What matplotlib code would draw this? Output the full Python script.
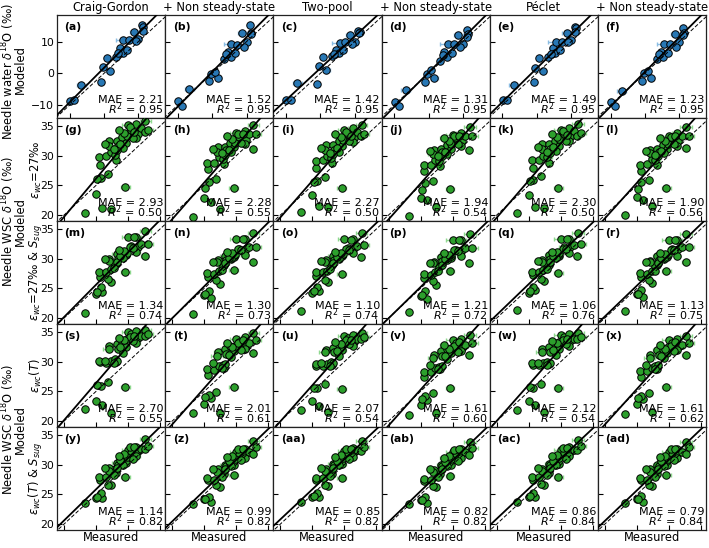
import numpy as np
import matplotlib
matplotlib.use("Agg")
import matplotlib.pyplot as plt

col_titles = ["Craig-Gordon", "+ Non steady-state", "Two-pool", "+ Non steady-state", "Péclet", "+ Non steady-state"]
row_labels = [None, r"$\varepsilon_{wc}$=27‰", r"$\varepsilon_{wc}$=27‰ & $S_{sug}$",
              r"$\varepsilon_{wc}(T)$", r"$\varepsilon_{wc}(T)$ & $S_{sug}$"]
panel_letters = ["a", "b", "c", "d", "e", "f", "g", "h", "i", "j", "k", "l", "m", "n", "o", "p", "q", "r",
                 "s", "t", "u", "v", "w", "x", "y", "z", "aa", "ab", "ac", "ad"]
mae_labels = ["2.21", "1.52", "1.42", "1.31", "1.49", "1.23",
              "2.93", "2.28", "2.27", "1.94", "2.30", "1.90",
              "1.34", "1.30", "1.10", "1.21", "1.06", "1.13",
              "2.70", "2.01", "2.07", "1.61", "2.12", "1.61",
              "1.14", "0.99", "0.85", "0.82", "0.86", "0.79"]
r2_labels = ["0.95", "0.95", "0.95", "0.95", "0.95", "0.95",
             "0.50", "0.55", "0.50", "0.54", "0.50", "0.56",
             "0.74", "0.73", "0.74", "0.72", "0.76", "0.75",
             "0.55", "0.61", "0.54", "0.60", "0.54", "0.62",
             "0.82", "0.82", "0.82", "0.82", "0.84", "0.84"]

# Needle water (row 1)
meas_nw = [-9.9, -8.7, -6.7, -0.9, -0.4, 1.7, 0.8, 3.4, 4.6, 5.4, 6.7, 5.6, 7.3, 8.7, 10.0, 11.1, 11.4, 11.2, 4.1, 9.2]
xerr_nw = [0.5, 0.5, 1.3, 0.4, 0.4, 1.0, 0.4, 0.5, 0.6, 0.5, 0.9, 2.2, 1.0, 1.2, 0.6, 0.5, 0.4, 0.4, 0.6, 0.8]
mod_a = [-8.6, -8.5, -3.6, -2.8, 1.9, 0.7, 4.9, 5.2, 8.0, 6.5, 7.5, 10.4, 10.4, 13.0, 10.7, 15.4, 14.6, 13.5, 6.4, 10.3]
mod_b = [-8.6, -10.2, -5.0, -2.4, -0.2, -1.6, 0.5, 4.5, 6.6, 5.0, 6.4, 9.3, 9.0, 12.8, 10.0, 15.2, 12.8, 12.3, 6.0, 8.2]
mod_c = [-8.4, -8.4, -3.0, -3.3, 2.3, 0.9, 5.0, 5.4, 7.3, 6.3, 7.2, 9.7, 9.8, 12.1, 9.8, 13.4, 13.0, 12.6, 6.1, 9.3]
mod_d = [-9.2, -10.4, -5.4, -2.8, -0.3, -1.6, 0.9, 4.0, 6.6, 5.2, 6.4, 9.3, 9.4, 12.2, 9.4, 13.8, 12.3, 11.5, 5.8, 8.3]
mod_e = [-8.5, -8.4, -3.8, -2.8, 1.6, 0.6, 4.7, 5.0, 7.9, 6.5, 7.2, 10.0, 10.0, 12.6, 10.4, 14.7, 14.2, 13.1, 6.1, 9.8]
mod_f = [-8.9, -10.2, -5.5, -2.3, 0.1, -1.5, 0.8, 4.6, 6.8, 5.1, 6.5, 9.4, 9.3, 12.3, 9.9, 14.4, 12.6, 12.0, 6.0, 8.4]

# Needle WSC (rows 2-5)
meas_wsc = [23.2, 25.0, 26.0, 27.4, 29.6, 25.7, 26.9, 25.6, 25.5, 26.6, 27.3, 28.1, 27.9, 27.1, 27.0, 28.2, 28.4, 29.1, 29.7, 30.0,
            30.5, 29.8, 31.3, 31.5, 32.0, 32.7, 32.6, 33.1, 31.3, 29.2, 28.3, 28.8, 30.3, 29.4, 30.8, 26.4, 28.6, 31.0, 27.8, 25.2]
xerr_wsc = [0.3, 0.3, 0.4, 0.4, 0.7, 0.3, 0.4, 0.4, 0.3, 0.6, 0.4, 0.3, 0.7, 0.5, 0.9, 0.7, 0.5, 0.6, 0.5, 1.0,
            0.7, 0.6, 0.8, 0.5, 0.6, 0.9, 0.5, 0.8, 0.5, 0.4, 0.4, 0.6, 0.5, 0.7, 0.6, 0.4, 0.5, 0.7, 0.5, 0.3]
mod_g = [20.3, 23.5, 21.2, 21.0, 24.7, 26.2, 26.9, 28.5, 29.8, 29.9, 30.6, 29.3, 30.2, 32.5, 31.7, 32.5, 31.6, 33.1, 32.2, 35.1,
         34.3, 33.4, 35.3, 33.7, 34.7, 35.8, 34.0, 34.3, 32.9, 31.3, 30.9, 32.0, 34.8, 33.8, 33.0, 32.0, 34.3, 34.0, 31.2, 26.1]
mod_h = [19.6, 22.8, 22.2, 21.0, 24.6, 25.6, 26.0, 27.7, 28.7, 28.8, 29.7, 28.6, 29.5, 31.4, 30.6, 31.5, 30.9, 32.2, 31.4, 33.8,
         33.2, 32.2, 34.2, 32.7, 33.6, 35.2, 31.2, 33.6, 31.9, 30.6, 30.2, 31.0, 33.6, 32.8, 32.2, 31.2, 33.4, 33.7, 30.4, 24.5]
mod_i = [20.6, 23.4, 21.5, 21.3, 24.5, 25.8, 26.4, 27.9, 29.1, 29.2, 29.9, 28.7, 29.6, 31.8, 31.0, 31.8, 31.0, 32.4, 31.6, 34.3,
         33.6, 32.7, 34.6, 33.0, 34.0, 35.2, 33.3, 33.7, 32.3, 30.7, 30.3, 31.3, 34.0, 33.1, 32.4, 31.3, 33.6, 33.4, 30.5, 25.6]
mod_j = [19.8, 22.9, 22.5, 21.4, 24.4, 25.4, 25.8, 27.4, 28.4, 28.5, 29.3, 28.3, 29.1, 31.0, 30.3, 31.2, 30.6, 31.8, 31.1, 33.5,
         32.9, 31.9, 33.9, 32.4, 33.3, 34.9, 31.0, 33.4, 31.6, 30.3, 29.9, 30.7, 33.3, 32.5, 31.9, 30.8, 33.0, 33.4, 30.0, 24.2]
mod_k = [20.4, 23.3, 21.4, 21.2, 24.5, 25.9, 26.5, 28.0, 29.2, 29.3, 30.0, 28.8, 29.7, 31.9, 31.1, 31.9, 31.1, 32.5, 31.7, 34.4,
         33.7, 32.8, 34.7, 33.1, 34.1, 35.3, 33.4, 33.8, 32.4, 30.8, 30.4, 31.4, 34.1, 33.2, 32.5, 31.4, 33.7, 33.5, 30.6, 25.7]
mod_l = [20.0, 23.0, 22.6, 21.6, 24.6, 25.5, 25.9, 27.5, 28.4, 28.6, 29.4, 28.4, 29.2, 31.0, 30.4, 31.2, 30.7, 31.8, 31.2, 33.4,
         32.9, 32.0, 33.9, 32.5, 33.3, 34.8, 31.3, 33.4, 31.7, 30.4, 30.0, 30.8, 33.2, 32.5, 32.0, 30.8, 33.0, 33.3, 30.1, 24.4]
mod_m = [20.9, 24.0, 24.4, 26.1, 27.8, 25.3, 26.6, 27.0, 27.8, 27.8, 28.2, 29.1, 29.1, 30.0, 29.6, 30.8, 30.0, 30.8, 30.7, 33.7,
         32.1, 31.0, 33.7, 32.0, 32.5, 34.7, 30.4, 32.5, 31.1, 30.2, 29.5, 30.5, 31.9, 31.3, 31.8, 29.9, 31.4, 33.6, 28.4, 24.4]
mod_n = [20.7, 23.9, 23.4, 25.8, 28.1, 24.6, 26.4, 26.9, 27.6, 27.4, 28.0, 28.9, 28.8, 29.7, 29.4, 30.5, 29.8, 30.4, 30.3, 33.4,
         31.7, 30.7, 33.4, 31.7, 32.0, 34.4, 29.4, 32.0, 30.6, 29.9, 29.2, 30.2, 31.6, 30.9, 31.5, 29.5, 31.1, 33.4, 28.1, 24.0]
mod_o = [21.2, 24.2, 24.6, 26.0, 27.5, 25.2, 26.4, 27.1, 27.7, 27.7, 28.0, 28.9, 28.9, 29.7, 29.4, 30.5, 29.8, 30.5, 30.4, 33.3,
         31.8, 30.8, 33.3, 31.8, 32.2, 34.3, 30.3, 32.3, 30.9, 30.0, 29.3, 30.3, 31.6, 31.0, 31.5, 29.6, 31.1, 33.2, 28.2, 24.5]
mod_p = [21.0, 23.8, 23.2, 25.6, 27.9, 24.5, 26.2, 26.7, 27.4, 27.2, 27.8, 28.7, 28.6, 29.5, 29.2, 30.3, 29.6, 30.2, 30.1, 33.1,
         31.5, 30.5, 33.1, 31.5, 31.8, 34.1, 29.3, 31.8, 30.4, 29.7, 29.0, 30.0, 31.4, 30.7, 31.3, 29.3, 30.9, 33.1, 27.9, 23.9]
mod_q = [21.4, 24.3, 24.7, 26.2, 27.6, 25.3, 26.5, 27.2, 27.8, 27.8, 28.1, 29.0, 29.0, 29.8, 29.5, 30.6, 29.9, 30.6, 30.5, 33.3,
         31.9, 30.9, 33.4, 31.9, 32.3, 34.3, 30.4, 32.4, 31.0, 30.1, 29.4, 30.4, 31.7, 31.1, 31.6, 29.6, 31.2, 33.3, 28.3, 24.6]
mod_r = [21.2, 24.0, 23.6, 25.9, 28.0, 24.8, 26.4, 26.9, 27.6, 27.4, 28.0, 28.9, 28.8, 29.6, 29.4, 30.5, 29.8, 30.4, 30.3, 33.2,
         31.6, 30.6, 33.2, 31.6, 31.9, 34.1, 29.5, 31.9, 30.5, 29.9, 29.2, 30.2, 31.5, 30.8, 31.4, 29.4, 31.0, 33.2, 28.0, 24.1]
mod_s = [22.0, 23.4, 22.7, 21.4, 25.7, 25.9, 26.6, 29.9, 30.2, 29.8, 30.1, 30.0, 30.4, 32.6, 32.2, 32.9, 32.1, 33.4, 32.5, 35.0,
         34.6, 33.8, 35.1, 34.0, 34.4, 35.3, 34.4, 34.7, 33.1, 31.5, 30.1, 32.4, 34.2, 33.6, 33.5, 30.2, 34.0, 34.3, 29.8, 26.0]
mod_t = [21.3, 22.8, 23.9, 21.4, 25.7, 24.4, 24.9, 27.7, 28.7, 28.6, 29.3, 29.0, 29.5, 31.6, 30.9, 32.2, 31.3, 32.6, 31.8, 33.9,
         33.4, 32.7, 34.2, 32.6, 33.2, 34.9, 31.4, 33.6, 32.1, 30.8, 29.6, 31.2, 33.1, 32.5, 32.0, 29.8, 33.2, 33.7, 29.0, 24.0]
mod_u = [21.8, 23.3, 22.6, 21.5, 25.4, 25.5, 26.2, 29.3, 29.6, 29.3, 29.6, 29.5, 29.9, 32.0, 31.6, 32.3, 31.6, 32.8, 32.0, 34.4,
         34.0, 33.2, 34.5, 33.4, 33.8, 34.8, 33.8, 34.1, 32.6, 31.0, 29.7, 31.8, 33.6, 33.0, 32.9, 29.7, 33.4, 33.7, 29.3, 25.6]
mod_v = [21.1, 22.7, 23.6, 21.3, 25.6, 24.2, 24.7, 27.4, 28.3, 28.3, 28.9, 28.7, 29.1, 31.2, 30.6, 31.8, 31.0, 32.2, 31.5, 33.6,
         33.1, 32.3, 33.9, 32.3, 32.8, 34.5, 31.1, 33.2, 31.8, 30.5, 29.3, 30.9, 32.7, 32.1, 31.7, 29.4, 32.8, 33.4, 28.7, 23.8]
mod_w = [21.9, 23.3, 22.7, 21.5, 25.5, 25.6, 26.3, 29.4, 29.7, 29.4, 29.7, 29.6, 30.0, 32.1, 31.7, 32.4, 31.7, 32.9, 32.1, 34.5,
         34.1, 33.3, 34.6, 33.5, 33.9, 34.9, 33.9, 34.2, 32.7, 31.1, 29.8, 31.9, 33.7, 33.1, 33.0, 29.8, 33.5, 33.8, 29.4, 25.7]
mod_x = [21.2, 22.8, 23.7, 21.5, 25.7, 24.3, 24.8, 27.5, 28.4, 28.4, 29.0, 28.8, 29.2, 31.2, 30.7, 31.9, 31.1, 32.2, 31.5, 33.6,
         33.1, 32.4, 33.9, 32.4, 32.8, 34.4, 31.2, 33.2, 31.9, 30.6, 29.4, 31.0, 32.7, 32.2, 31.8, 29.5, 32.8, 33.4, 28.8, 23.9]
mod_y = [23.5, 24.4, 24.4, 26.5, 28.0, 25.2, 26.6, 27.5, 27.9, 27.9, 29.0, 28.6, 29.2, 29.4, 29.0, 30.3, 30.0, 30.6, 30.3, 32.5,
         32.0, 31.3, 33.0, 32.3, 32.6, 34.3, 32.6, 33.2, 31.5, 30.0, 29.5, 30.8, 32.9, 31.8, 31.0, 29.5, 31.5, 32.9, 28.2, 24.6]
mod_z = [23.4, 24.2, 23.7, 26.3, 28.2, 24.6, 26.5, 27.4, 27.7, 27.5, 28.8, 28.5, 29.0, 29.2, 28.8, 30.0, 29.8, 30.3, 30.0, 32.2,
         31.6, 31.0, 32.7, 32.0, 32.2, 34.0, 31.8, 32.9, 31.2, 29.8, 29.3, 30.6, 32.6, 31.5, 30.8, 29.3, 31.3, 32.7, 28.0, 24.2]
mod_aa = [23.7, 24.6, 24.5, 26.4, 27.8, 25.2, 26.5, 27.4, 27.8, 27.8, 28.8, 28.5, 29.0, 29.2, 28.9, 30.1, 29.9, 30.4, 30.1, 32.3,
          31.8, 31.1, 32.8, 32.1, 32.4, 34.0, 32.3, 33.0, 31.3, 29.9, 29.4, 30.6, 32.7, 31.6, 30.9, 29.4, 31.3, 32.7, 28.1, 24.7]
mod_ab = [23.4, 24.1, 23.6, 26.2, 28.1, 24.5, 26.4, 27.3, 27.6, 27.4, 28.7, 28.4, 28.9, 29.1, 28.7, 29.9, 29.7, 30.2, 29.9, 32.1,
          31.5, 30.9, 32.6, 31.9, 32.1, 33.9, 31.7, 32.8, 31.1, 29.7, 29.2, 30.5, 32.5, 31.4, 30.7, 29.2, 31.2, 32.6, 27.9, 24.1]
mod_ac = [23.8, 24.6, 24.6, 26.6, 28.0, 25.3, 26.7, 27.5, 27.9, 27.9, 28.9, 28.6, 29.1, 29.3, 29.0, 30.2, 30.0, 30.5, 30.2, 32.4,
          31.9, 31.2, 32.9, 32.2, 32.5, 34.1, 32.4, 33.1, 31.4, 30.0, 29.5, 30.7, 32.8, 31.7, 31.0, 29.5, 31.4, 32.8, 28.2, 24.8]
mod_ad = [23.5, 24.2, 23.8, 26.4, 28.2, 24.7, 26.5, 27.4, 27.7, 27.5, 28.8, 28.5, 29.0, 29.2, 28.8, 30.0, 29.8, 30.3, 30.0, 32.2,
          31.6, 31.0, 32.7, 32.0, 32.2, 33.9, 31.8, 32.9, 31.2, 29.8, 29.3, 30.6, 32.6, 31.5, 30.8, 29.3, 31.3, 32.7, 28.0, 24.3]

modeled = [[mod_a, mod_b, mod_c, mod_d, mod_e, mod_f],
           [mod_g, mod_h, mod_i, mod_j, mod_k, mod_l],
           [mod_m, mod_n, mod_o, mod_p, mod_q, mod_r],
           [mod_s, mod_t, mod_u, mod_v, mod_w, mod_x],
           [mod_y, mod_z, mod_aa, mod_ab, mod_ac, mod_ad]]

W, H = 709, 548
fig, axes = plt.subplots(5, 6, figsize=(W / 100, H / 100), dpi=100)
fig.subplots_adjust(left=57 / W, right=706 / W, top=1 - 15 / H, bottom=1 - 530 / H, wspace=0, hspace=0)

blue, blue_err = "#2878b5", "#8cbde3"
green, green_err = "#2ca02c", "#8fd88f"
FS = 8.3

for r in range(5):
    for c in range(6):
        ax = axes[r, c]
        k = r * 6 + c
        if r == 0:
            xm, xe = np.array(meas_nw), np.array(xerr_nw)
            lim_x, lim_y = (-13.7, 17.8), (-14.1, 18.4)
            fc, ec = blue, blue_err
            ticks = [-10, 0, 10]
        else:
            xm, xe = np.array(meas_wsc), np.array(xerr_wsc)
            lim_x, lim_y = (18.9, 35.8), (19.0, 36.35)
            fc, ec = green, green_err
            ticks = [20, 25, 30, 35]
        ym = np.array(modeled[r][c])
        ax.errorbar(xm, ym, xerr=xe, fmt="none", ecolor=ec, elinewidth=1.0, capsize=1.6, capthick=1.0, zorder=2)
        ax.scatter(xm, ym, s=29, c=fc, edgecolors="black", linewidths=0.7, zorder=3)
        xx = np.array([min(lim_x[0], lim_y[0]) - 5, max(lim_x[1], lim_y[1]) + 5])
        ax.plot(xx, xx, ls=(0, (4, 2)), color="black", lw=0.7, zorder=4)
        sl, ic = np.polyfit(xm, ym, 1)
        ax.plot(xx, sl * xx + ic, color="black", lw=1.3, zorder=4)
        ax.set_xlim(lim_x)
        ax.set_ylim(lim_y)
        ax.set_xticks(ticks)
        ax.set_yticks(ticks)
        ax.tick_params(direction="in", length=3.5, width=0.8, labelsize=7.8, colors="black",
                       labelbottom=False, labelleft=(c == 0), pad=2)
        for sp in ax.spines.values():
            sp.set_linewidth(0.9)
            sp.set_color("#222222")
        ax.text(0.07, 0.93, "(" + panel_letters[k] + ")", transform=ax.transAxes, fontsize=7.8,
                fontweight="bold", ha="left", va="top", zorder=6)
        ax.text(0.985, 0.125, "MAE = " + mae_labels[k], transform=ax.transAxes, fontsize=8,
                ha="right", va="bottom", zorder=6)
        ax.text(0.985, 0.005, "$R^2$ = " + r2_labels[k], transform=ax.transAxes, fontsize=8,
                ha="right", va="bottom", zorder=6)
        if r == 0:
            ax.set_title(col_titles[c], fontsize=FS, pad=3)
        if r == 4:
            ax.set_xlabel("Measured", fontsize=FS, labelpad=1)

# Row labels
def ycen(r):
    top = 15 + r * (515 / 5)
    return 1 - (top + 515 / 10) / H

fig.text(8 / W, 1 - 72 / H, r"Needle water $\delta^{18}$O (‰)", rotation=90, ha="center", va="center", fontsize=FS)
fig.text(20 / W, 1 - 70 / H, "Modeled", rotation=90, ha="center", va="center", fontsize=FS)
for r in range(1, 5):
    fig.text(36 / W, ycen(r), row_labels[r], rotation=90, ha="center", va="center", fontsize=FS)
for yc in [1 - 222 / H, 1 - 430 / H]:
    fig.text(8 / W, yc, r"Needle WSC $\delta^{18}$O (‰)", rotation=90, ha="center", va="center", fontsize=FS)
    fig.text(20 / W, yc, "Modeled", rotation=90, ha="center", va="center", fontsize=FS)

fig.savefig("out.png", dpi=100)
